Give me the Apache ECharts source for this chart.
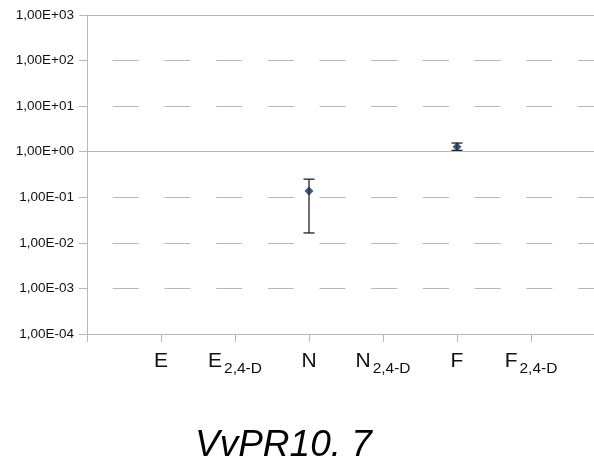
<!DOCTYPE html>
<html>
<head>
<meta charset="utf-8">
<script src="https://cdn.jsdelivr.net/npm/echarts@6/dist/echarts.min.js"></script>
<style>
  html, body { margin: 0; padding: 0; background: #fff; }
  #chart { width: 594px; height: 470px; }
</style>
</head>
<body>
<div id="chart"></div>
<script>
const categories = ['E', 'E|2,4-D', 'N', 'N|2,4-D', 'F', 'F|2,4-D']
const means = [null, null, 0.137, null, 1.29, null]
const errLow = [null, null, 0.0165, null, 1.07, null]
const errHigh = [null, null, 0.25, null, 1.55, null]
const solidLevels = [1, 1000]

const font = '"Liberation Sans", Arial, sans-serif'
const gridColor = '#b8b8b8'

const pointData = []
const errData = []
categories.forEach((c, i) => {
  if (means[i] == null) return
  pointData.push([i + 1, means[i]])
  errData.push([i + 1, errLow[i], errHigh[i]])
})

const fmtSci = v => {
  const e = Math.round(Math.log10(v))
  const s = e < 0 ? '-' : '+'
  return '1,00E' + s + String(Math.abs(e)).padStart(2, '0')
}

const chart = echarts.init(document.getElementById('chart'))

chart.setOption({
  animation: false,
  backgroundColor: '#fff',
  title: {
    text: 'VvPR10. 7',
    left: 190,
    top: 422,
    textStyle: { fontFamily: font, fontSize: 37, fontStyle: 'italic', fontWeight: 'normal', color: '#000' }
  },
  grid: { left: 87, top: 15, width: 518, height: 319, outerBoundsMode: 'none', containLabel: false },
  xAxis: {
    type: 'value',
    min: 0,
    max: 7,
    interval: 1,
    axisLine: { lineStyle: { color: gridColor, width: 1 } },
    axisTick: { length: 8, lineStyle: { color: gridColor } },
    splitLine: { show: false },
    axisLabel: {
      margin: 14,
      formatter: v => {
        const c = categories[v - 1]
        if (!c) return ''
        const [m, s] = c.split('|')
        return s ? '{m|' + m + '}{g|}{s|' + s + '}' : '{m|' + m + '}'
      },
      rich: {
        m: { fontFamily: font, fontSize: 21, color: '#111', verticalAlign: 'bottom', lineHeight: 24 },
        g: { width: 2 },
        s: { fontFamily: font, fontSize: 15.5, color: '#111', verticalAlign: 'bottom', lineHeight: 12, padding: [0, 0, -5, 0] }
      }
    }
  },
  yAxis: {
    type: 'log',
    logBase: 10,
    min: 1e-4,
    max: 1e3,
    axisLine: { show: true, lineStyle: { color: gridColor, width: 1 } },
    axisTick: { show: true, length: 8, lineStyle: { color: gridColor } },
    axisLabel: { margin: 13, fontFamily: font, fontSize: 13.5, color: '#111', formatter: fmtSci },
    splitLine: {
      show: true,
      lineStyle: { color: gridColor, width: 1, type: [26, 25.7], dashOffset: 26 }
    }
  },
  series: [
    {
      type: 'custom',
      silent: true,
      data: errData,
      renderItem: (params, api) => {
        const x = api.value(0)
        const lo = api.coord([x, api.value(1)])
        const hi = api.coord([x, api.value(2)])
        const w = 5.5
        const style = { stroke: '#222', lineWidth: 1.3 }
        return {
          type: 'group',
          children: [
            { type: 'line', shape: { x1: lo[0], y1: lo[1], x2: hi[0], y2: hi[1] }, style },
            { type: 'line', shape: { x1: lo[0] - w, y1: lo[1], x2: lo[0] + w, y2: lo[1] }, style },
            { type: 'line', shape: { x1: hi[0] - w, y1: hi[1], x2: hi[0] + w, y2: hi[1] }, style }
          ]
        }
      },
      z: 3
    },
    {
      type: 'scatter',
      symbol: 'diamond',
      symbolSize: 9,
      data: pointData,
      itemStyle: { color: '#0f3257' },
      z: 4,
      markLine: {
        silent: true,
        symbol: 'none',
        label: { show: false },
        lineStyle: { color: gridColor, type: 'solid', width: 1 },
        data: solidLevels.map(v => ({ yAxis: v }))
      }
    }
  ]
})
</script>
</body>
</html>
